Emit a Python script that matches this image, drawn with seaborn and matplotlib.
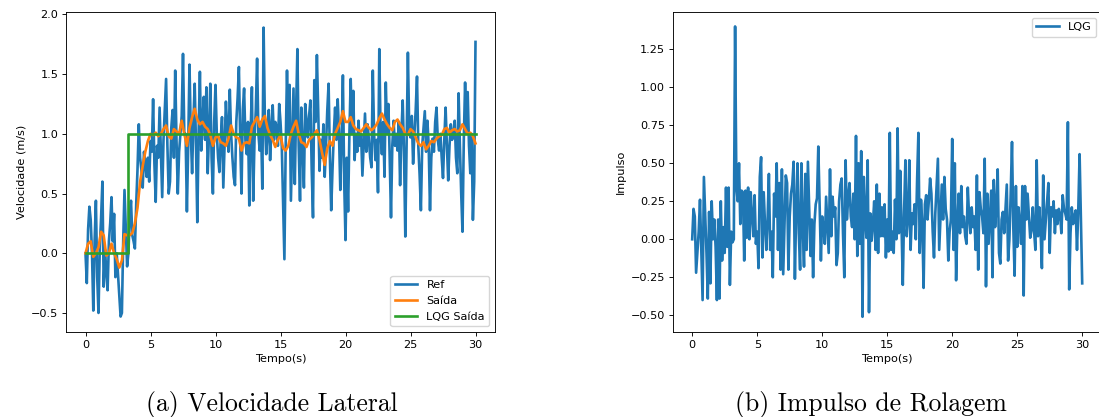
import numpy as np
import matplotlib
matplotlib.use("Agg")
import matplotlib.pyplot as plt
import seaborn as sns

# ---------------- data ----------------
ref_vals = [
    0.00, -0.25, 0.20, 0.39, 0.28, 0.00, -0.48, 0.10, 0.44, -0.20,
    -0.50, 0.05, 0.30, 0.60, -0.28, 0.03, -0.15, -0.31, 0.10, 0.25,
    0.47, 0.10, 0.33, -0.20, 0.00, -0.18, -0.35, -0.53, -0.50, 0.10,
    0.53, 0.20, -0.11, 0.00, 0.30, 0.44, 0.15, 0.10, 0.04, 0.41,
    0.70, 1.08, 0.80, 0.70, 0.55, 0.85, 0.75, 0.64, 0.80, 0.60,
    0.94, 0.85, 1.29, 0.75, 0.43, 0.90, 0.80, 1.22, 0.85, 0.47,
    0.95, 1.20, 1.46, 0.90, 0.50, 0.60, 1.05, 1.20, 0.80, 1.53,
    0.95, 0.50, 0.85, 1.00, 1.15, 1.67, 1.00, 1.00, 0.35, 0.90,
    1.58, 1.00, 0.67, 1.10, 1.42, 0.90, 0.26, 1.00, 1.52, 0.86,
    1.10, 1.31, 0.95, 1.39, 0.67, 1.00, 1.42, 0.80, 0.50, 1.10,
    1.41, 1.00, 0.80, 0.68, 0.95, 1.14, 0.55, 0.90, 1.27, 1.05,
    0.85, 1.37, 1.00, 0.80, 0.64, 0.57, 1.10, 1.30, 1.56, 0.95,
    0.50, 1.20, 1.38, 0.95, 0.83, 1.10, 0.40, 1.00, 1.39, 0.44,
    0.95, 1.20, 1.63, 1.00, 0.86, 1.10, 0.54, 1.89, 1.10, 0.83,
    1.00, 1.20, 0.78, 1.05, 1.24, 0.95, 1.10, 1.06, 0.90, 1.25,
    1.10, 0.89, 0.40, -0.05, 0.90, 1.53, 1.00, 1.41, 0.44, 0.90,
    1.38, 0.58, 1.20, 1.71, 0.90, 0.44, 1.22, 0.90, 0.55, 1.25,
    1.10, 0.97, 1.15, 1.28, 0.70, 0.30, 1.45, 1.10, 1.66, 1.20,
    0.69, 0.95, 0.80, 1.08, 0.64, 0.90, 1.20, 1.42, 0.80, 0.36,
    0.70, 1.00, 1.22, 0.95, 1.29, 1.00, 0.53, 0.95, 1.49, 0.60,
    0.11, 0.80, 0.35, 1.00, 1.46, 1.00, 1.36, 0.78, 1.00, 0.85,
    1.11, 0.90, 1.00, 0.65, 0.90, 1.17, 0.85, 1.08, 0.95, 0.80,
    0.72, 1.53, 1.00, 0.78, 0.95, 0.51, 1.71, 1.00, 0.83, 1.10,
    0.64, 1.43, 1.00, 1.25, 0.80, 0.30, 0.90, 1.11, 0.90, 1.00,
    0.86, 1.10, 0.57, 1.00, 1.28, 0.85, 0.14, 0.90, 1.68, 1.05,
    0.97, 1.15, 0.75, 1.00, 1.20, 1.48, 0.90, 0.66, 0.36, 0.90,
    1.05, 1.19, 0.85, 1.11, 0.90, 0.36, 0.80, 0.96, 0.85, 1.10,
    1.22, 0.95, 0.86, 1.00, 0.80, 0.63, 0.95, 1.22, 0.90, 0.61,
    0.90, 1.08, 0.95, 1.00, 1.11, 0.80, 0.67, 1.34, 0.90, 0.50,
    0.18, 0.95, 1.43, 1.00, 1.35, 0.90, 0.67, 1.00, 0.28, 0.60,
    1.77,
]

saida_vals = [
    0.00, 0.08, 0.10, -0.03, 0.00, 0.05, 0.18, 0.15, -0.02, 0.00,
    0.08, 0.00, -0.05, -0.12, -0.06, 0.16, 0.15, 0.15, 0.17, 0.25,
    0.38, 0.60, 0.73, 0.85, 0.94, 1.00, 0.99, 1.01, 0.98, 1.00,
    1.04, 1.07, 0.98, 0.96, 1.04, 1.02, 1.00, 1.11, 1.00, 0.90,
    1.05, 1.14, 1.21, 1.12, 1.08, 1.10, 1.06, 1.04, 0.99, 0.90,
    0.97, 0.98, 0.93, 0.92, 0.90, 0.96, 1.07, 1.00, 0.97, 0.96,
    0.86, 0.92, 0.93, 0.92, 1.06, 1.10, 1.14, 1.06, 1.12, 1.15,
    1.05, 0.99, 0.95, 0.89, 0.95, 0.99, 0.88, 0.86, 0.90, 1.00,
    1.06, 1.11, 1.00, 0.93, 0.92, 0.89, 0.95, 0.97, 1.00, 1.03,
    0.95, 0.84, 0.74, 0.88, 0.94, 0.90, 1.00, 1.05, 1.10, 1.19,
    1.10, 1.10, 1.14, 1.07, 1.04, 1.03, 1.02, 1.05, 1.08, 1.05,
    1.03, 1.05, 1.08, 1.13, 1.17, 1.12, 1.08, 1.05, 1.03, 1.10,
    1.12, 1.08, 1.05, 1.00, 0.99, 1.04, 1.02, 0.97, 0.92, 0.90,
    0.93, 0.87, 0.90, 0.94, 0.93, 0.96, 0.98, 0.99, 1.04, 1.05,
    1.01, 1.03, 1.04, 1.02, 1.03, 1.08, 1.04, 1.00, 1.01, 0.98,
    0.92,
]

lqg_t = [0.0, 3.3, 3.3, 30.0]
lqg_vals = [0.0, 0.0, 1.0, 1.0]

impulso_vals = [
    0.00, 0.20, 0.15, -0.22, -0.09, 0.05, 0.26, -0.07, -0.40, 0.41,
    0.17, -0.09, -0.39, 0.18, -0.29, 0.25, 0.00, 0.13, -0.05, -0.40,
    0.13, -0.39, 0.25, -0.14, 0.08, -0.09, 0.34, -0.05, 0.34, -0.30,
    0.05, -0.02, 0.00, 1.40, 0.34, 0.25, 0.50, 0.10, 0.32, 0.31,
    -0.14, 0.32, 0.01, 0.34, 0.00, 0.31, 0.15, 0.02, 0.29, -0.03,
    0.05, -0.19, 0.41, 0.54, -0.12, 0.31, 0.10, -0.07, 0.13, 0.43,
    -0.07, 0.05, -0.25, 0.30, 0.15, 0.50, -0.07, 0.37, -0.20, 0.46,
    -0.23, 0.10, 0.42, 0.37, -0.20, 0.15, 0.30, 0.36, 0.51, -0.26,
    0.20, 0.50, 0.04, -0.20, 0.50, 0.10, -0.18, 0.43, -0.07, 0.51,
    0.20, -0.11, 0.13, -0.25, 0.10, 0.23, 0.27, 0.61, 0.23, -0.14,
    0.15, 0.08, -0.03, 0.28, 0.10, -0.09, 0.46, 0.02, 0.28, 0.15,
    0.21, -0.17, -0.09, 0.25, 0.36, 0.40, 0.04, -0.25, 0.52, 0.13,
    0.27, 0.37, 0.15, 0.08, 0.30, 0.00, 0.68, -0.11, 0.50, -0.03,
    0.58, -0.51, 0.41, 0.15, 0.01, 0.52, -0.48, 0.17, -0.01, 0.10,
    0.25, -0.07, 0.36, -0.09, 0.30, 0.02, 0.21, 0.02, 0.23, -0.12,
    0.13, -0.08, 0.70, -0.07, 0.05, -0.09, 0.26, 0.00, 0.73, 0.04,
    0.45, 0.10, -0.30, 0.18, 0.52, 0.02, 0.13, 0.52, -0.07, 0.17,
    0.10, 0.23, 0.00, 0.39, 0.70, -0.09, 0.26, 0.10, -0.32, 0.23,
    0.29, 0.13, 0.25, 0.40, 0.30, 0.05, -0.12, 0.17, 0.35, 0.53,
    -0.07, 0.15, 0.36, 0.13, 0.41, 0.20, 0.13, -0.14, 0.05, 0.13,
    0.66, -0.07, 0.50, -0.27, 0.10, 0.30, 0.04, 0.35, 0.08, 0.15,
    0.02, -0.03, 0.34, 0.15, 0.04, 0.21, 0.08, 0.15, -0.07, 0.42,
    -0.20, 0.31, 0.20, 0.15, 0.04, 0.53, -0.31, 0.30, -0.03, 0.15,
    0.32, -0.25, 0.39, 0.08, 0.21, 0.46, -0.09, -0.16, 0.13, 0.18,
    0.04, 0.20, 0.36, -0.14, 0.00, 0.30, 0.64, 0.08, -0.24, 0.35,
    -0.05, 0.21, 0.10, -0.03, 0.35, -0.37, 0.35, 0.13, 0.30, 0.15,
    0.01, 0.06, 0.21, 0.05, -0.07, 0.52, 0.02, 0.21, 0.05, -0.19,
    0.42, 0.00, 0.13, 0.25, 0.37, -0.09, 0.21, 0.15, 0.25, 0.04,
    0.19, 0.10, 0.20, 0.16, 0.04, 0.29, 0.20, 0.17, 0.13, 0.77,
    -0.33, 0.04, 0.21, 0.10, 0.15, 0.19, -0.07, 0.20, 0.56, 0.15,
    -0.29,
]

t_ref = np.linspace(0, 30, len(ref_vals))
t_saida = np.linspace(0, 30, len(saida_vals))
t_imp = np.linspace(0, 30, len(impulso_vals))

# ---------------- style ----------------
FS = 8.1
sc = 0.81
plt.rcParams.update({
    "font.family": ["DejaVu Sans"],
    "font.size": FS,
    "axes.linewidth": 0.8 * sc,
    "xtick.major.size": 3.5 * sc,
    "ytick.major.size": 3.5 * sc,
    "xtick.major.width": 0.8 * sc,
    "ytick.major.width": 0.8 * sc,
    "xtick.major.pad": 3.5 * sc,
    "ytick.major.pad": 3.5 * sc,
    "axes.labelpad": 4.0 * sc,
    "legend.fontsize": FS,
})

W, H = 1099, 417
fig = plt.figure(figsize=(W / 100, H / 100), dpi=100)
ax1 = fig.add_axes([66 / W, (H - 331.7) / H, 429 / W, 319.4 / H])
ax2 = fig.add_axes([672.7 / W, (H - 331.7) / H, 429 / W, 319.4 / H])

LW = 1.9
c0, c1, c2 = sns.color_palette("tab10")[:3]

sns.lineplot(x=t_ref, y=ref_vals, ax=ax1, color=c0, linewidth=LW,
             label="Ref", estimator=None)
sns.lineplot(x=t_saida, y=saida_vals, ax=ax1, color=c1, linewidth=LW,
             label="Saída", estimator=None)
sns.lineplot(x=lqg_t, y=lqg_vals, ax=ax1, color=c2, linewidth=LW,
             label="LQG Saída", estimator=None)
ax1.set_xlim(-1.5, 31.5)
ax1.set_ylim(-0.657, 2.018)
ax1.set_xlabel("Tempo(s)")
ax1.set_ylabel("Velocidade (m/s)")
ax1.legend(loc="lower right")

sns.lineplot(x=t_imp, y=impulso_vals, ax=ax2, color=c0, linewidth=LW,
             label="LQG", estimator=None)
ax2.set_xlim(-1.5, 31.5)
ax2.set_ylim(-0.608, 1.493)
ax2.set_yticks([-0.5, -0.25, 0.0, 0.25, 0.5, 0.75, 1.0, 1.25])
ax2.set_xlabel("Tempo(s)")
ax2.set_ylabel("Impulso")
ax2.legend(loc="upper right")

for ax in (ax1, ax2):
    ax.set_xticks([0, 5, 10, 15, 20, 25, 30])
    for s in ax.spines.values():
        s.set_visible(True)

fig.text(272 / W, (H - 410.5) / H, "(a) Velocidade Lateral", ha="center",
         va="baseline", fontfamily="cmr10", fontsize=18.5)
fig.text(871 / W, (H - 410.5) / H, "(b) Impulso de Rolagem", ha="center",
         va="baseline", fontfamily="cmr10", fontsize=18.5)

fig.savefig("out.png", dpi=100)
